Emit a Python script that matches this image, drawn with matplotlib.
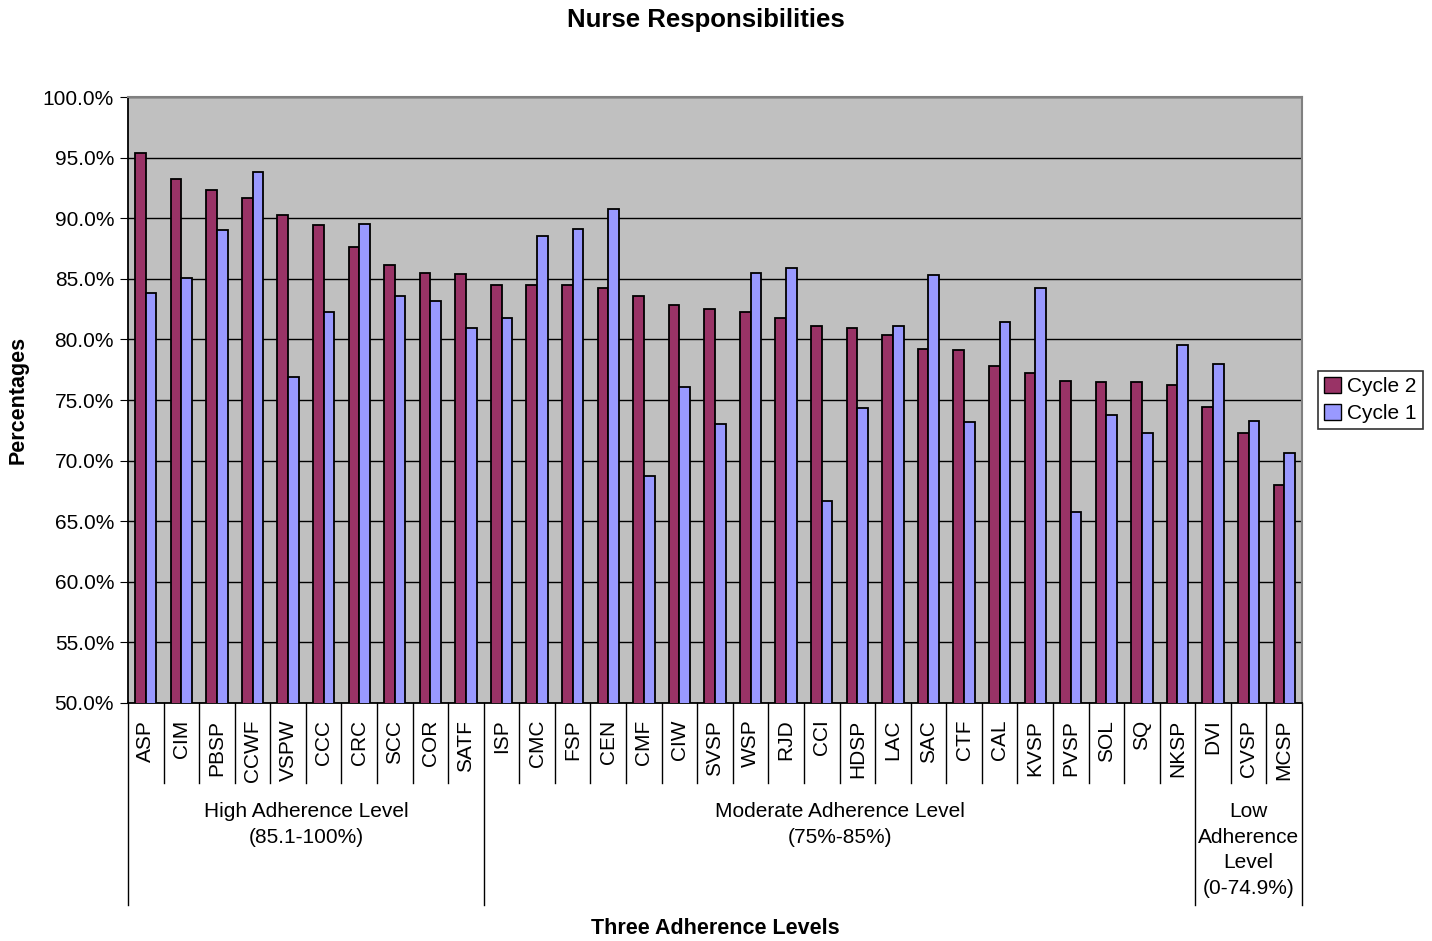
import matplotlib
matplotlib.use('Agg')
import matplotlib.pyplot as plt
import matplotlib.transforms as mtransforms
from matplotlib.patches import Patch
from matplotlib.ticker import FuncFormatter, MultipleLocator

plt.rcParams['font.family'] = ['Liberation Sans', 'DejaVu Sans']

# data (percent)
categories = ['ASP', 'CIM', 'PBSP', 'CCWF', 'VSPW', 'CCC', 'CRC', 'SCC', 'COR', 'SATF',
              'ISP', 'CMC', 'FSP', 'CEN', 'CMF', 'CIW', 'SVSP', 'WSP', 'RJD', 'CCI',
              'HDSP', 'LAC', 'SAC', 'CTF', 'CAL', 'KVSP', 'PVSP', 'SOL', 'SQ', 'NKSP',
              'DVI', 'CVSP', 'MCSP']
cycle2 = [95.4, 93.2, 92.3, 91.7, 90.3, 89.4, 87.6, 86.1, 85.5, 85.4,
          84.5, 84.5, 84.5, 84.2, 83.6, 82.8, 82.5, 82.3, 81.8, 81.1,
          80.9, 80.4, 79.2, 79.1, 77.8, 77.2, 76.6, 76.5, 76.5, 76.2,
          74.4, 72.3, 68.0]
cycle1 = [83.8, 85.1, 89.0, 93.8, 76.9, 82.3, 89.5, 83.6, 83.2, 80.9,
          81.8, 88.5, 89.1, 90.8, 68.7, 76.1, 73.0, 85.5, 85.9, 66.7,
          74.3, 81.1, 85.3, 73.2, 81.4, 84.2, 65.8, 73.8, 72.3, 79.5,
          78.0, 73.3, 70.6]
group_names = ['High Adherence Level\n(85.1-100%)',
               'Moderate Adherence Level\n(75%-85%)',
               'Low\nAdherence\nLevel\n(0-74.9%)']
group_sizes = [10, 20, 3]

c2_color = '#993366'
c1_color = '#9999FF'

fig = plt.figure(figsize=(14.32, 9.41), dpi=100)
ax = fig.add_axes([128 / 1432, 1 - 703 / 941, 1174 / 1432, 606 / 941])
ax.set_facecolor('#C0C0C0')

x = list(range(len(categories)))
w = 0.3
ax.bar([i - w / 2 for i in x], cycle2, width=w, bottom=0, color=c2_color,
       edgecolor='black', linewidth=1.3, zorder=3)
ax.bar([i + w / 2 for i in x], cycle1, width=w, bottom=0, color=c1_color,
       edgecolor='black', linewidth=1.3, zorder=3)

ax.set_ylim(50, 100)
ax.set_xlim(-0.5, len(categories) - 0.5)
ax.yaxis.set_major_locator(MultipleLocator(5))
ax.yaxis.set_major_formatter(FuncFormatter(lambda v, p: f'{v:.1f}%'))
ax.grid(axis='y', color='black', linewidth=1.0, zorder=1)
ax.set_axisbelow(True)
ax.tick_params(axis='y', direction='out', length=6, labelsize=15, pad=4)

ax.set_xticks(x)
ax.set_xticklabels(categories, rotation=90, fontsize=15, va='top')
ax.tick_params(axis='x', length=0, pad=12)

for side in ['top', 'right']:
    ax.spines[side].set_color('#808080')
    ax.spines[side].set_linewidth(1.5)
for side in ['left', 'bottom']:
    ax.spines[side].set_color('black')
    ax.spines[side].set_linewidth(1.3)

# separators below the axis
trans = mtransforms.blended_transform_factory(ax.transData, ax.transAxes)
bounds = [0]
for s in group_sizes:
    bounds.append(bounds[-1] + s)
for b in range(len(categories) + 1):
    if b in bounds:
        ax.plot([b - 0.5, b - 0.5], [0, -0.333], color='black', lw=1,
                transform=trans, clip_on=False)
    else:
        ax.plot([b - 0.5, b - 0.5], [0, -0.132], color='black', lw=1,
                transform=trans, clip_on=False)

for k, name in enumerate(group_names):
    mid = (bounds[k] + bounds[k + 1]) / 2 - 0.5
    ax.text(mid, -0.163, name, transform=trans, ha='center', va='top',
            fontsize=15, linespacing=1.45)

fig.text(706 / 1432, 1 - 20 / 941, 'Nurse Responsibilities', ha='center',
         va='center', fontsize=18.5, fontweight='bold')
fig.text(715 / 1432, 1 - 928 / 941, 'Three Adherence Levels', ha='center',
         va='center', fontsize=15.5, fontweight='bold')
fig.text(18 / 1432, 1 - 400 / 941, 'Percentages', ha='center', va='center',
         rotation=90, fontsize=15.5, fontweight='bold')

handles = [Patch(facecolor=c2_color, edgecolor='black', label='Cycle 2'),
           Patch(facecolor=c1_color, edgecolor='black', label='Cycle 1')]
leg = fig.legend(handles=handles, loc='center left',
                 bbox_to_anchor=(1318 / 1432, 1 - 400 / 941), fontsize=15,
                 frameon=True, fancybox=False, handlelength=0.8,
                 handleheight=0.8, handletextpad=0.3, borderpad=0.3,
                 labelspacing=0.35, borderaxespad=0)
leg.get_frame().set_edgecolor('black')
leg.get_frame().set_linewidth(1.2)

fig.savefig('out.png', dpi=100)
